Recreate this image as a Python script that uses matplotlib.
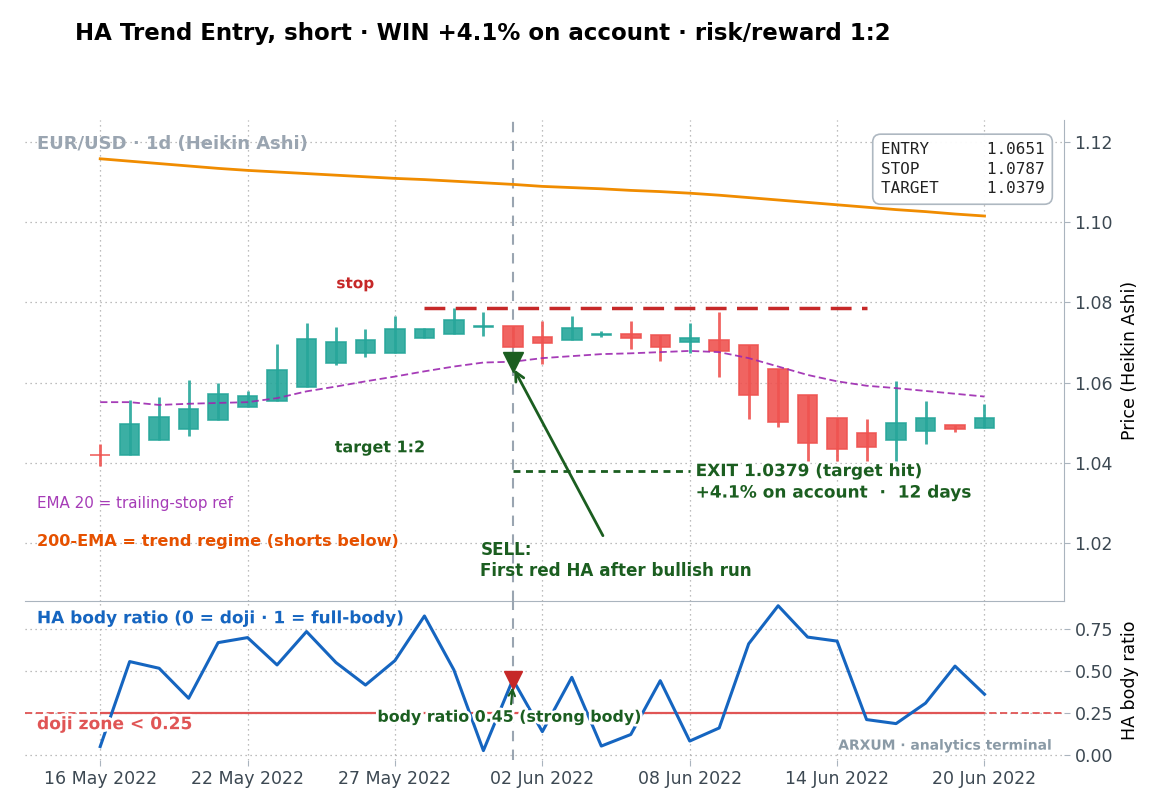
import numpy as np
import matplotlib
matplotlib.use("Agg")
import matplotlib.pyplot as plt
import matplotlib.patheffects as pe

# Heikin Ashi candles (daily, EUR/USD)
ha_open = [1.0420, 1.0419, 1.0457, 1.0485, 1.0507, 1.0538, 1.0553, 1.0590, 1.0650, 1.0675,
           1.0673, 1.0711, 1.0721, 1.0739, 1.0742, 1.0714, 1.0707, 1.0720, 1.0722, 1.0719,
           1.0702, 1.0706, 1.0694, 1.0634, 1.0568, 1.0511, 1.0473, 1.0457, 1.0478, 1.0493, 1.0487]
ha_high = [1.0446, 1.0557, 1.0565, 1.0607, 1.0600, 1.0579, 1.0697, 1.0749, 1.0738, 1.0734,
           1.0765, 1.0736, 1.0786, 1.0776, 1.0742, 1.0753, 1.0765, 1.0728, 1.0753, 1.0719,
           1.0748, 1.0775, 1.0694, 1.0634, 1.0568, 1.0511, 1.0508, 1.0603, 1.0553, 1.0493, 1.0547]
ha_low = [1.0392, 1.0419, 1.0457, 1.0467, 1.0507, 1.0538, 1.0553, 1.0590, 1.0644, 1.0663,
          1.0673, 1.0711, 1.0721, 1.0716, 1.0688, 1.0647, 1.0707, 1.0715, 1.0685, 1.0654,
          1.0675, 1.0613, 1.0509, 1.0488, 1.0403, 1.0403, 1.0403, 1.0403, 1.0446, 1.0476, 1.0487]
ha_close = [1.0418, 1.0496, 1.0513, 1.0534, 1.0571, 1.0566, 1.0631, 1.0708, 1.0701, 1.0706,
            1.0733, 1.0733, 1.0756, 1.0741, 1.0688, 1.0700, 1.0736, 1.0722, 1.0712, 1.0688,
            1.0712, 1.0680, 1.0569, 1.0502, 1.0449, 1.0434, 1.0440, 1.0498, 1.0511, 1.0483, 1.0511]

ema20 = [1.0551, 1.0551, 1.0544, 1.0547, 1.0549, 1.0551, 1.0561, 1.0578, 1.0590, 1.0603,
         1.0615, 1.0628, 1.0640, 1.0650, 1.0652, 1.0661, 1.0666, 1.0671, 1.0673, 1.0676,
         1.0679, 1.0676, 1.0661, 1.0640, 1.0619, 1.0603, 1.0592, 1.0586, 1.0579, 1.0572, 1.0565]
ema200 = [1.1159, 1.1153, 1.1147, 1.1141, 1.1135, 1.1130, 1.1126, 1.1122, 1.1118, 1.1114,
          1.1110, 1.1107, 1.1103, 1.1099, 1.1095, 1.1090, 1.1087, 1.1084, 1.1080, 1.1077,
          1.1073, 1.1068, 1.1062, 1.1056, 1.1050, 1.1044, 1.1038, 1.1032, 1.1027, 1.1021, 1.1016]

body_ratio = [0.05, 0.557, 0.517, 0.338, 0.67, 0.70, 0.537, 0.736, 0.551, 0.417,
              0.563, 0.829, 0.507, 0.026, 0.45, 0.139, 0.463, 0.053, 0.122, 0.443,
              0.083, 0.161, 0.663, 0.89, 0.703, 0.679, 0.211, 0.187, 0.309, 0.53, 0.362]

tick_labels = ["16 May 2022", "22 May 2022", "27 May 2022", "02 Jun 2022",
               "08 Jun 2022", "14 Jun 2022", "20 Jun 2022"]

ENTRY, STOP, TARGET = 1.0651, 1.0787, 1.0379
SELL_IDX = 14
EXIT_IDX = 20
STOP_FROM, STOP_TO = 11, 26
DOJI = 0.25

GREEN = "#26a69a"
RED = "#ef5350"
DKGREEN = "#1b5e20"
SPINE = "#aab4be"
TICKC = "#3c4852"

x = np.arange(len(ha_open))
o = np.array(ha_open)
c = np.array(ha_close)
up = c >= o
cols = np.where(up, GREEN, RED)

fig = plt.figure(figsize=(11.59, 8.11), dpi=100)
ax = fig.add_axes([0.0216, 0.2593, 0.8965, 0.5933])
ax2 = fig.add_axes([0.0216, 0.0629, 0.8965, 0.1964], sharex=ax)
ax2.patch.set_alpha(0)

stroke = [pe.withStroke(linewidth=4, foreground="white")]

# --- price panel ---
ax.vlines(x, ha_low, ha_high, color=cols, lw=2, alpha=0.9, zorder=2)
heights = np.where(np.abs(c - o) < 0.0001, 0.0001, c - o)
ax.bar(x, heights, bottom=o, width=0.66, color=cols, edgecolor=cols,
       lw=1.2, alpha=0.9, zorder=3)

ax.plot(x, ema20, color="#9c27b0", lw=1.3, ls=(0, (4, 2)), alpha=0.9, zorder=4)
ax.plot(x, ema200, color="#f08c00", lw=2, zorder=4)

ax.hlines(STOP, STOP_FROM, STOP_TO, color="#c62828", lw=2.5, linestyles=(0, (6, 3)), zorder=4)
ax.hlines(TARGET, SELL_IDX, EXIT_IDX, color=DKGREEN, lw=2, linestyles=(0, (2.5, 2)), zorder=4)
ax.plot([SELL_IDX], [ENTRY], marker="v", color=DKGREEN, ms=15, zorder=6, ls="none")

for a in (ax, ax2):
    a.axvline(SELL_IDX, color="#9aa5b1", lw=1.5, ls=(0, (5, 4)), zorder=1)

ax.text(8.65, 1.0847, "stop", color="#c62828", fontsize=11, weight="bold",
        ha="center", va="center", path_effects=stroke)
ax.text(9.5, 1.0437, "target 1:2", color=DKGREEN, fontsize=11.5, weight="bold",
        ha="center", va="center", path_effects=stroke)
ax.annotate("SELL:\nFirst red HA after bullish run", xy=(SELL_IDX, ENTRY - 0.0012),
            xytext=(12.9, 1.0155), color=DKGREEN, fontsize=12.1, weight="bold",
            ha="left", va="center", linespacing=1.25,
            arrowprops=dict(arrowstyle="->", color=DKGREEN, lw=2, mutation_scale=16),
            zorder=7)
ax.text(20.2, 1.0352, "EXIT 1.0379 (target hit)\n+4.1% on account  \u00b7  12 days",
        color=DKGREEN, fontsize=12.2, weight="bold", ha="left", va="center",
        linespacing=1.25, path_effects=stroke, zorder=7)

ax.text(0.0115, 0.949, "EUR/USD \u00b7 1d (Heikin Ashi)", transform=ax.transAxes,
        color="#9aa5b1", fontsize=13, weight="bold", ha="left", va="center")
ax.text(0.0115, 0.203, "EMA 20 = trailing-stop ref", transform=ax.transAxes,
        color="#9c27b0", fontsize=10.9, ha="left", va="center", alpha=0.9)
ax.text(0.0115, 0.124, "200-EMA = trend regime (shorts below)", transform=ax.transAxes,
        color="#e65100", fontsize=11.6, weight="bold", ha="left", va="center")

box_txt = (f"ENTRY      {ENTRY:.4f}\n"
           f"STOP       {STOP:.4f}\n"
           f"TARGET     {TARGET:.4f}")
ax.text(0.981, 0.953, box_txt, transform=ax.transAxes, family="DejaVu Sans Mono",
        fontsize=11.5, ha="right", va="top", color="#222222", linespacing=1.38,
        bbox=dict(boxstyle="round,pad=0.5", fc="white", ec=SPINE, lw=1.2, alpha=0.95),
        zorder=8)

ax.set_ylim(1.0055, 1.1257)
ax.set_yticks([1.02, 1.04, 1.06, 1.08, 1.10, 1.12])
ax.yaxis.set_major_formatter(matplotlib.ticker.FormatStrFormatter("%.2f"))
ax.set_ylabel("Price (Heikin Ashi)", fontsize=12.5, labelpad=6)

# --- body ratio panel ---
ax2.plot(x, body_ratio, color="#1565c0", lw=2.2, zorder=3)
ax2.axhline(DOJI, color="#e05555", lw=1.3, ls=(0, (4, 2)), zorder=2)
ax2.hlines(DOJI, x[0], x[-1], color="#e05555", lw=1.6, zorder=2)
ax2.plot([SELL_IDX], [body_ratio[SELL_IDX]], marker="v", color="#c62828", ms=13,
         ls="none", zorder=5)
ax2.annotate(f"body ratio {body_ratio[SELL_IDX]:.2f} (strong body)",
             xy=(SELL_IDX, body_ratio[SELL_IDX] - 0.03), xytext=(SELL_IDX - 0.1, 0.225),
             color=DKGREEN, fontsize=11.4, weight="bold", ha="center", va="center",
             arrowprops=dict(arrowstyle="->", color=DKGREEN, lw=1.5),
             path_effects=stroke, zorder=6)
ax2.text(0.0115, 0.89, "HA body ratio (0 = doji \u00b7 1 = full-body)", transform=ax2.transAxes,
         color="#1565c0", fontsize=12.2, weight="bold", ha="left", va="center",
         path_effects=stroke, zorder=6)
ax2.text(0.0115, 0.225, "doji zone < 0.25", transform=ax2.transAxes,
         color="#e05555", fontsize=12.3, weight="bold", ha="left", va="center",
         path_effects=stroke, zorder=6)
ax2.text(0.988, 0.09, "ARXUM \u00b7 analytics terminal", transform=ax2.transAxes,
         color="#8a9aa6", fontsize=10, weight="bold", ha="right", va="center",
         path_effects=stroke, zorder=6)

ax2.set_ylim(-0.03, 0.92)
ax2.set_yticks([0.0, 0.25, 0.5, 0.75])
ax2.yaxis.set_major_formatter(matplotlib.ticker.FormatStrFormatter("%.2f"))
ax2.set_ylabel("HA body ratio", fontsize=12.5, labelpad=6)

ax2.set_xlim(-2.55, 32.7)
ax2.set_xticks(x[::5])
ax2.set_xticklabels(tick_labels)

for a in (ax, ax2):
    a.yaxis.tick_right()
    a.yaxis.set_label_position("right")
    a.grid(True, ls=(0, (1, 3)), color="#a8a8a8", lw=0.9)
    a.set_axisbelow(True)
    a.tick_params(axis="both", labelsize=12.5, colors=SPINE, labelcolor=TICKC, length=4)
    for s in a.spines.values():
        s.set_visible(False)
ax.spines["right"].set_visible(True)
ax.spines["bottom"].set_visible(True)
ax.spines["right"].set_color(SPINE)
ax.spines["bottom"].set_color(SPINE)
ax.spines["bottom"].set_zorder(10)
ax.tick_params(axis="x", length=0, labelbottom=False)

fig.text(0.065, 0.959, "HA Trend Entry, short \u00b7 WIN +4.1% on account \u00b7 risk/reward 1:2",
         fontsize=16.5, weight="bold", ha="left", va="center")

fig.savefig("out.png", dpi=100)
